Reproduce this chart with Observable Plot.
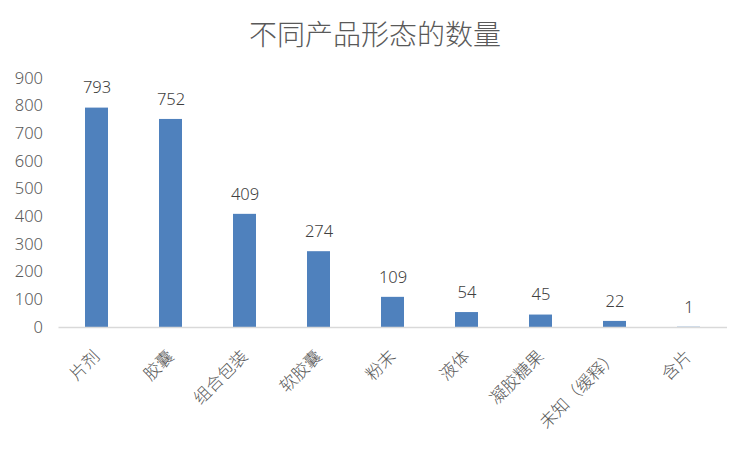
<!DOCTYPE html>
<html><head><meta charset="utf-8">
<script src="https://cdn.jsdelivr.net/npm/d3@7"></script>
<script src="https://cdn.jsdelivr.net/npm/@observablehq/plot@0.6"></script>
<style>
body{margin:0;background:#fff;font-family:"Noto Sans CJK SC","Noto Sans",sans-serif;}
#title{height:66px;line-height:66px;text-align:center;font-size:28px;font-weight:300;color:#595959;}
</style></head><body>
<div id="title">不同产品形态的数量</div>
<div id="chart"></div>
<script>
const categories = ["片剂","胶囊","组合包装","软胶囊","粉末","液体","凝胶糖果","未知（缓释）","含片"];
const counts = [793,752,409,274,109,54,45,22,1];
const yTicks = [0,100,200,300,400,500,600,700,800,900];
const data = categories.map((c,i)=>({category:c,count:counts[i]}));
const chart = Plot.plot({
  width:750, height:384, marginTop:12, marginBottom:123, marginLeft:58.5, marginRight:23,
  style:{fontFamily:"'Noto Sans CJK SC','Noto Sans',sans-serif", color:"#595959", background:"#fff"},
  x:{domain:categories, paddingInner:0.69, paddingOuter:0.345, label:null},
  y:{domain:[0,900], label:null},
  marks:[
    Plot.axisY({ticks:yTicks, tickSize:0, tickPadding:16, fontSize:16.5, label:null, fontFamily:"Noto Sans", fontWeight:300}),
    Plot.axisX({tickRotate:-45, tickSize:0, tickPadding:26, fontSize:17, label:null, fontWeight:300}),
    Plot.barY(data,{x:"category",y:"count",fill:"#4f81bd"}),
    Plot.ruleY([0],{stroke:"#d9d9d9",strokeWidth:1.5}),
    Plot.text(data,{x:"category",y:"count",text:d=>String(d.count),dy:-20,fontSize:16.5,fill:"#404040",fontFamily:"Noto Sans",fontWeight:300})
  ]
});
document.getElementById("chart").appendChild(chart);
</script>
</body></html>
